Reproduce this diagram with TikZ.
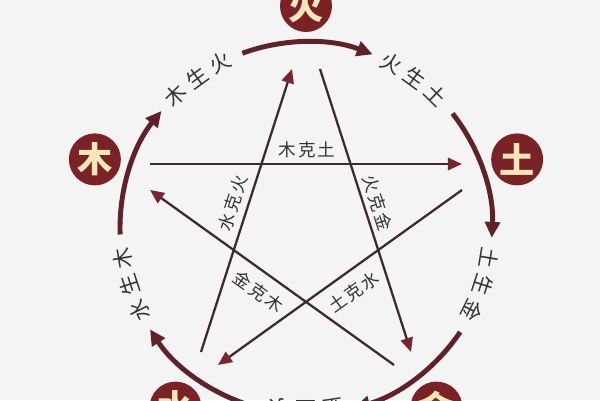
\documentclass[tikz,border=0pt]{standalone}
\usepackage{fontspec}
\newfontfamily\cjk{Noto Sans CJK SC}
\usetikzlibrary{arrows.meta,calc}
\definecolor{bgc}{HTML}{F4F4F4}
\definecolor{elemc}{HTML}{7B2226}
\definecolor{arcc}{HTML}{5E2228}
\definecolor{starc}{HTML}{3D2A2E}
\definecolor{tipc}{HTML}{7A2430}
\definecolor{txtc}{HTML}{333333}
\definecolor{elemtxt}{HTML}{F6E7B8}
\newcommand\placech[5]{\node[shengtxt,rotate={#1-90}] (#3) at ([shift={(#1:#4)}]C) {#2};}
\begin{document}
\begin{tikzpicture}[x=0.02cm,y=0.02cm,
 elem/.style={circle,fill=elemc,minimum size=1.04cm,inner sep=0pt,text=elemtxt,font=\cjk\bfseries\fontsize{20}{20}\selectfont},
 shengarc/.style={draw=arcc,line width=2.8pt,-{Triangle[length=9pt,width=8.5pt]}},
 kearrow/.style={draw=starc,line width=1.3pt,-{Triangle[length=8pt,width=7pt,color=tipc]}},
 shengtxt/.style={text=txtc,font=\cjk\fontsize{12}{12}\selectfont,inner sep=0pt},
 ketxt/.style={text=txtc,font=\cjk\fontsize{10}{10}\selectfont,inner sep=0pt}]
\useasboundingbox (0,0) rectangle (600,400);
\fill[bgc] (0,0) rectangle (600,400);
\clip (0,0) rectangle (600,400);
\coordinate (C) at (306,172);
% sheng arcs
\foreach \t/\n in {162/mu,90/huo,18/tu,-54/jin,234/shui}{
  \coordinate (as\n) at ([shift={({\t+20}:186)}]C);
  \draw[shengarc] (as\n) arc[start angle=\t+20, end angle=\t-21, radius=186];
}
% sheng labels
\placech{134.5}{木}{la1}{186}{}
\placech{126}{生}{la2}{186}{}
\placech{117.5}{火}{la3}{186}{}
\placech{62.5}{火}{lb1}{186}{}
\placech{54}{生}{lb2}{186}{}
\placech{45.5}{土}{lb3}{186}{}
\placech{-9.5}{土}{lc1}{186}{}
\placech{-18}{生}{lc2}{186}{}
\placech{-26.5}{金}{lc3}{186}{}
\placech{-81.5}{金}{ld1}{182}{}
\placech{-90}{生}{ld2}{182}{}
\placech{-98.5}{水}{ld3}{182}{}
\placech{206.5}{水}{le1}{186}{}
\placech{198}{生}{le2}{186}{}
\placech{189.5}{木}{le3}{186}{}
% ke lines
\coordinate (k1s) at (150,236); \coordinate (k1e) at (462,236);
\coordinate (k2s) at (320,331); \coordinate (k2e) at (411,48);
\coordinate (k3s) at (462,210); \coordinate (k3e) at (218,35);
\coordinate (k4s) at (394,35);  \coordinate (k4e) at (150,210);
\coordinate (k5s) at (201,48);  \coordinate (k5e) at (292,331);
\draw[kearrow] (k1s) -- (k1e);
\draw[kearrow] (k2s) -- (k2e);
\draw[kearrow] (k3s) -- (k3e);
\draw[kearrow] (k4s) -- (k4e);
\draw[kearrow] (k5s) -- (k5e);
% ke labels
\node[ketxt] (kt1) at (307,250) {木\kern1.2pt 克\kern1.2pt 土};
\node[ketxt,rotate=-72.2] (kt2) at (378,197) {火\kern1.2pt 克\kern1.2pt 金};
\node[ketxt,rotate=35.6] (kt3) at (354,108) {土\kern1.2pt 克\kern1.2pt 水};
\node[ketxt,rotate=-35.6] (kt4) at (259,108) {金\kern1.2pt 克\kern1.2pt 木};
\node[ketxt,rotate=72.2] (kt5) at (233,197) {水\kern1.2pt 克\kern1.2pt 火};
% elements
\node[elem] (mu) at ([shift={(162:222)}]C) {木};
\node[elem] (huo) at ([shift={(90:222)}]C) {火};
\node[elem] (tu) at ([shift={(18:222)}]C) {土};
\node[elem] (jin) at ([shift={(-54:222)}]C) {金};
\node[elem] (shui) at ([shift={(234:222)}]C) {水};
\end{tikzpicture}
\end{document}
